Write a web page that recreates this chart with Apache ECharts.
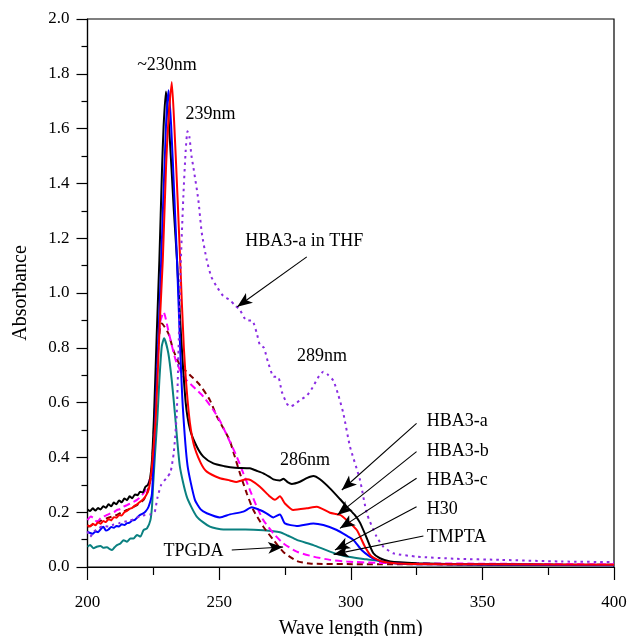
<!DOCTYPE html>
<html>
<head>
<meta charset="utf-8">
<script src="https://cdn.jsdelivr.net/npm/echarts@6/dist/echarts.min.js"></script>
<style>
  html, body { margin: 0; padding: 0; background: #fff; }
  #chart { width: 628px; height: 636px; }
</style>
</head>
<body>
<div id="chart"></div>
<script>
// UV-Vis absorbance spectra, wavelength (nm) vs absorbance
const xTicks = [200, 250, 300, 350, 400];
const yTicks = [0.0, 0.2, 0.4, 0.6, 0.8, 1.0, 1.2, 1.4, 1.6, 1.8, 2.0];

const hba3a = [[200,0.21],[201,0.204],[202,0.214],[203,0.206],[204,0.215],[205,0.21],[206,0.222],[207,0.216],[208,0.229],[209,0.222],[210,0.235],[211,0.229],[212,0.243],[213,0.236],[214,0.25],[215,0.244],[216,0.258],[217,0.251],[218,0.265],[219,0.262],[220,0.275],[221,0.272],[222,0.293],[223,0.3],[223.8,0.325],[224.5,0.39],[225.3,0.56],[226.3,0.85],[227.3,1.12],[228.3,1.45],[228.9,1.607],[229.8,1.735],[231,1.607],[232.8,1.3],[234,1.12],[235.5,0.85],[237.3,0.6],[239,0.5],[241.5,0.44],[244,0.403],[247.8,0.378],[252,0.368],[256,0.362],[261.7,0.36],[264,0.352],[266.8,0.342],[269,0.33],[270.6,0.32],[273.1,0.316],[274.4,0.322],[276,0.31],[277.6,0.303],[280.7,0.311],[283.5,0.325],[285.8,0.332],[288.3,0.32],[292.1,0.287],[295.9,0.248],[299,0.215],[301.5,0.19],[303.5,0.162],[306.1,0.105],[308.6,0.05],[311.1,0.032],[315,0.02],[325,0.014],[340,0.01],[370,0.008],[400,0.007]];

const hba3b = [[200,0.153],[201,0.148],[202,0.158],[203,0.152],[204,0.163],[205,0.158],[206,0.168],[207,0.164],[208,0.175],[209,0.17],[210,0.182],[211,0.18],[212,0.19],[213,0.188],[214,0.2],[215,0.205],[216,0.212],[217,0.216],[218,0.224],[219,0.23],[220,0.238],[221,0.246],[222,0.257],[223.2,0.281],[224.3,0.35],[225.2,0.45],[226,0.56],[227.5,0.9],[228.6,1.12],[229.8,1.45],[230.6,1.607],[232,1.77],[233,1.607],[234.2,1.35],[235.2,1.12],[236.6,0.8],[238.5,0.56],[240.3,0.45],[243,0.38],[245.3,0.348],[250.3,0.324],[254.1,0.316],[256.5,0.31],[258.5,0.316],[260.5,0.32],[262,0.317],[265.5,0.293],[269.3,0.257],[271.2,0.245],[273.1,0.258],[275,0.232],[278.2,0.208],[283.3,0.214],[287.1,0.22],[292.1,0.198],[295.9,0.19],[298.5,0.171],[302.3,0.135],[305.4,0.074],[308,0.038],[312.4,0.019],[320,0.012],[350,0.01],[400,0.008]];

const hba3c = [[200,0.129],[201,0.124],[202,0.121],[203,0.13],[204,0.127],[205,0.138],[206,0.147],[207,0.133],[208,0.137],[209,0.146],[210,0.143],[211,0.15],[212,0.148],[213,0.156],[214,0.153],[215,0.16],[216,0.162],[217,0.17],[218,0.172],[219,0.182],[220,0.19],[221,0.195],[222,0.202],[223.2,0.22],[224.5,0.269],[225.8,0.56],[227,0.85],[228,1.12],[229.8,1.607],[230.8,1.74],[231.8,1.607],[233,1.35],[234,1.12],[235.2,0.8],[236.2,0.585],[238,0.37],[240.8,0.245],[243,0.21],[245.3,0.196],[250.3,0.181],[254.1,0.192],[259.2,0.202],[262.4,0.218],[265.5,0.208],[268,0.196],[270.6,0.181],[273.1,0.192],[275,0.159],[279.5,0.15],[285.8,0.159],[289.6,0.153],[294.7,0.135],[299,0.111],[301,0.099],[304.1,0.062],[307.3,0.038],[309.8,0.026],[315,0.015],[330,0.01],[400,0.006]];

const h30 = [[200,0.074],[201,0.08],[202.3,0.068],[203.5,0.074],[204.9,0.077],[206,0.07],[207.4,0.072],[208.5,0.065],[209.3,0.062],[210.3,0.072],[211.2,0.08],[212.5,0.086],[213.7,0.098],[215,0.092],[216.3,0.104],[217.5,0.104],[218.8,0.117],[220.1,0.111],[221.3,0.135],[222.6,0.141],[223.9,0.171],[224.5,0.22],[224.9,0.293],[225.7,0.42],[226.5,0.536],[227.3,0.682],[228.2,0.804],[229.1,0.835],[230.7,0.78],[232,0.682],[233.2,0.561],[235.1,0.366],[237.7,0.257],[241.5,0.184],[246.5,0.147],[251.6,0.137],[260,0.137],[266.8,0.134],[273.1,0.127],[276,0.115],[279.5,0.099],[285.8,0.08],[292.1,0.056],[298.5,0.038],[306,0.028],[312,0.02],[320,0.012],[400,0.008]];

const tmpta = [[200,0.171],[201.3,0.184],[202.3,0.178],[203.6,0.165],[205,0.178],[206.1,0.184],[207.4,0.19],[208.7,0.196],[210,0.2],[211.2,0.208],[212.5,0.212],[213.7,0.22],[215,0.226],[216.3,0.232],[217.5,0.238],[218.8,0.245],[220.1,0.255],[221.3,0.269],[222.3,0.285],[223.2,0.305],[224.5,0.354],[225.6,0.536],[226.3,0.682],[227.5,0.889],[228.9,0.93],[231,0.85],[233.5,0.755],[236.4,0.695],[240.2,0.658],[244,0.622],[247.8,0.573],[250.5,0.53],[252.5,0.49],[254.1,0.457],[256.7,0.403],[259.2,0.342],[261.7,0.281],[264.3,0.22],[266.8,0.171],[270.6,0.123],[274.4,0.086],[279.5,0.056],[285.8,0.038],[292.1,0.026],[298.5,0.02],[310,0.015],[350,0.012],[400,0.01]];

const tpgda = [[200,0.147],[201.5,0.152],[203.6,0.165],[205.5,0.17],[207.4,0.178],[209.3,0.184],[211.2,0.19],[213,0.2],[215,0.208],[217,0.217],[218.8,0.226],[220,0.235],[221.3,0.245],[222.6,0.269],[223.9,0.318],[224.5,0.366],[225.5,0.56],[226.5,0.75],[227.4,0.86],[228.2,0.889],[230.7,0.853],[232.6,0.792],[235.1,0.737],[238.9,0.701],[242.7,0.664],[246.5,0.609],[249.1,0.55],[252,0.5],[254.1,0.46],[255.4,0.42],[257.9,0.342],[260.5,0.269],[263,0.208],[266.8,0.147],[270.6,0.099],[274.4,0.055],[279.5,0.022],[285,0.012],[320,0.01],[400,0.008]];

const hba3aTHF = [[200,0.13],[201,0.11],[202.5,0.13],[204,0.14],[206,0.15],[208,0.148],[210,0.155],[212,0.16],[214,0.165],[216,0.17],[218,0.176],[220,0.185],[222,0.19],[224,0.192],[225.5,0.2],[226.5,0.25],[228,0.3],[230,0.325],[231.5,0.345],[232.8,0.42],[233.9,0.56],[234.6,0.8],[235.4,1.1],[236.4,1.35],[237.3,1.52],[238,1.59],[238.7,1.57],[239.5,1.5],[240.2,1.46],[242.1,1.34],[243.4,1.22],[245.3,1.12],[247,1.06],[249.1,1.023],[251.5,0.99],[254.1,0.974],[256,0.955],[257.9,0.938],[259.5,0.91],[260.5,0.9],[262.5,0.9],[264.3,0.853],[265.5,0.81],[267,0.8],[268.5,0.75],[270.6,0.695],[272.5,0.693],[273.8,0.64],[275.7,0.597],[276.9,0.585],[278.5,0.592],[280.7,0.609],[283.3,0.625],[285.5,0.655],[287.5,0.69],[289.6,0.713],[291.5,0.7],[293.4,0.68],[295.2,0.63],[297.2,0.56],[299.7,0.44],[303.5,0.318],[306.1,0.196],[309.8,0.111],[312.4,0.074],[316.2,0.05],[325,0.038],[340,0.03],[357,0.026],[380,0.02],[400,0.018]];

// Annotation texts, placed in data coordinates [nm, absorbance]
const centeredNotes = [
  { text: '~230nm', at: [230.2, 1.832] },
  { text: '239nm', at: [246.7, 1.651] },
  { text: 'HBA3-a in THF', at: [282.3, 1.19] },
  { text: '289nm', at: [289.1, 0.768] },
  { text: '286nm', at: [282.6, 0.389] },
  { text: 'TPGDA', at: [240.3, 0.058] }
];
const leftNotes = [
  { text: 'HBA3-a', at: [328.9, 0.533] },
  { text: 'HBA3-b', at: [328.9, 0.424] },
  { text: 'HBA3-c', at: [328.9, 0.318] },
  { text: 'H30', at: [328.9, 0.212] },
  { text: 'TMPTA', at: [328.9, 0.108] }
];
// Pointer arrows: [from, tip] in data coordinates
const pointers = [
  [[283.3, 1.132], [256.9, 0.950]],
  [[325.0, 0.524], [296.6, 0.281]],
  [[325.0, 0.421], [294.9, 0.190]],
  [[325.0, 0.324], [295.9, 0.141]],
  [[325.0, 0.220], [294.0, 0.062]],
  [[327.6, 0.113], [293.5, 0.046]],
  [[254.8, 0.062], [274.3, 0.073]]
];

const FONT = '"Liberation Serif", "Times New Roman", serif';

function lineSeries(name, data, color, type, width) {
  return {
    name, type: 'line', data,
    showSymbol: false, symbol: 'none', smooth: 0.2,
    lineStyle: { color, width: width || 2, type: type || 'solid', cap: 'butt' },
    z: 3
  };
}

const chart = echarts.init(document.getElementById('chart'), null, { renderer: 'canvas' });

const option = {
  animation: false,
  backgroundColor: '#fff',
  grid: {
    left: 87.5, top: 19, width: 526.5, height: 548,
    outerBoundsMode: 'none', containLabel: false,
    show: true, borderColor: '#000', borderWidth: 1.2, backgroundColor: 'transparent'
  },
  xAxis: {
    type: 'value', min: xTicks[0], max: xTicks[xTicks.length - 1], interval: 50,
    name: 'Wave length (nm)', nameLocation: 'middle', nameGap: 52,
    nameTextStyle: { fontFamily: FONT, fontSize: 20, color: '#000' },
    axisLine: { show: true, onZero: false, lineStyle: { color: '#000', width: 1.2 } },
    axisTick: { show: true, inside: false, length: 13, lineStyle: { color: '#000', width: 1.2 } },
    minorTick: { show: true, splitNumber: 2, length: 8, lineStyle: { color: '#000', width: 1.2 } },
    axisLabel: { fontFamily: FONT, fontSize: 17, color: '#000', margin: 27 },
    splitLine: { show: false }
  },
  yAxis: {
    type: 'value', min: yTicks[0], max: yTicks[yTicks.length - 1], interval: 0.2,
    name: 'Absorbance', nameLocation: 'middle', nameGap: 57,
    nameTextStyle: { fontFamily: FONT, fontSize: 20, color: '#000' },
    axisLine: { show: true, onZero: false, lineStyle: { color: '#000', width: 1.2 } },
    axisTick: { show: true, inside: false, length: 11, lineStyle: { color: '#000', width: 1.2 } },
    minorTick: { show: true, splitNumber: 2, length: 6, lineStyle: { color: '#000', width: 1.2 } },
    axisLabel: { fontFamily: FONT, fontSize: 17, color: '#000', margin: 18,
      formatter: v => v.toFixed(1) },
    splitLine: { show: false }
  },
  series: [
    lineSeries('H30', h30, '#0a8080'),
    lineSeries('TPGDA', tpgda, '#800000', [6, 4]),
    lineSeries('TMPTA', tmpta, '#ff00ff', [7, 4]),
    lineSeries('HBA3-a', hba3a, '#000000'),
    lineSeries('HBA3-c', hba3c, '#0000ff'),
    lineSeries('HBA3-b', hba3b, '#ff0000'),
    lineSeries('HBA3-a in THF', hba3aTHF, '#8a2be2', [2.5, 4]),
    {
      name: 'notes', type: 'line', data: [], silent: true, z: 5,
      markLine: {
        silent: true, animation: false,
        symbol: ['none', 'arrow'], symbolSize: [9, 15],
        itemStyle: { color: '#000' },
        lineStyle: { color: '#000', width: 1.1, type: 'solid' },
        label: { show: false },
        data: pointers.map(p => [{ coord: p[0] }, { coord: p[1] }])
      },
      markPoint: {
        silent: true, animation: false, symbol: 'circle', symbolSize: 0,
        data: centeredNotes.map(n => ({
          coord: n.at, name: n.text,
          label: { show: true, position: 'inside', formatter: '{b}',
            fontFamily: FONT, fontSize: 18, color: '#000' }
        })).concat(leftNotes.map(n => ({
          coord: n.at, name: n.text,
          label: { show: true, position: 'right', distance: 0, formatter: '{b}',
            fontFamily: FONT, fontSize: 18, color: '#000' }
        })))
      }
    }
  ]
};

chart.setOption(option);
</script>
</body>
</html>
